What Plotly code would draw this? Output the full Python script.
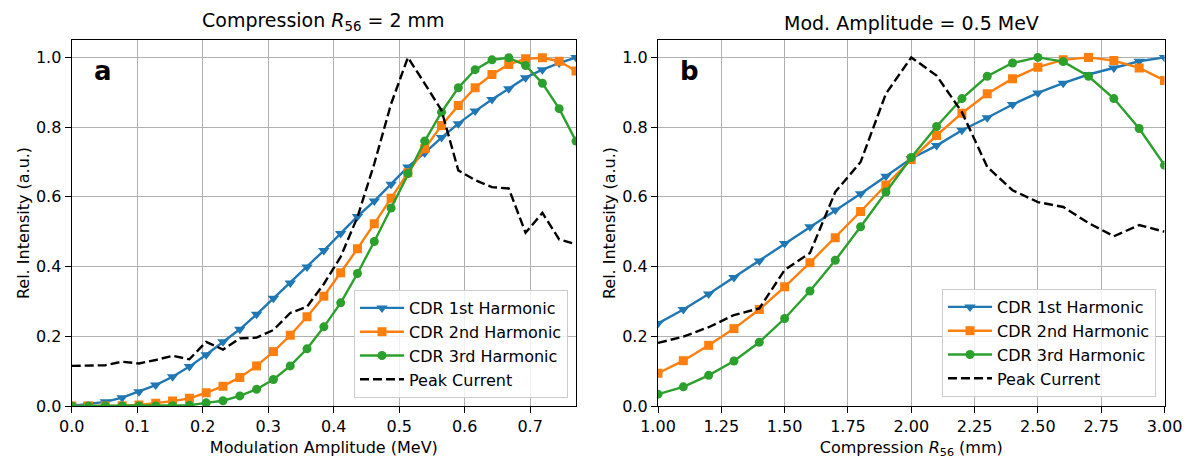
import plotly.graph_objects as go

# ---------------- data ----------------
mod_amp = [0.0, 0.0257, 0.0513, 0.077, 0.1027, 0.1283, 0.154, 0.1797, 0.2053, 0.231,
           0.2567, 0.2823, 0.308, 0.3337, 0.3593, 0.385, 0.4107, 0.4363, 0.462, 0.4877,
           0.5133, 0.539, 0.5647, 0.5903, 0.616, 0.6417, 0.6673, 0.693, 0.7187, 0.7443, 0.77]
a_h1 = [0.0, 0.005, 0.012, 0.024, 0.041, 0.060, 0.084, 0.113, 0.147, 0.184, 0.220,
        0.263, 0.309, 0.353, 0.399, 0.446, 0.495, 0.544, 0.588, 0.636, 0.686,
        0.726, 0.770, 0.810, 0.846, 0.879, 0.910, 0.942, 0.965, 0.984, 1.0]
a_h2 = [0.0, 0.0, 0.0, 0.001, 0.003, 0.008, 0.014, 0.022, 0.038, 0.057, 0.082,
        0.115, 0.156, 0.203, 0.256, 0.315, 0.382, 0.451, 0.523, 0.596, 0.669,
        0.738, 0.805, 0.862, 0.913, 0.951, 0.980, 0.996, 0.999, 0.989, 0.961]
a_h3 = [0.0, 0.0, 0.0, 0.0, 0.0, 0.0, 0.001, 0.002, 0.009, 0.015, 0.029,
        0.048, 0.076, 0.115, 0.164, 0.227, 0.296, 0.380, 0.472, 0.568, 0.667,
        0.760, 0.843, 0.913, 0.965, 0.993, 0.999, 0.977, 0.926, 0.853, 0.760]
a_peak = [0.115, 0.115, 0.117, 0.127, 0.122, 0.132, 0.144, 0.134, 0.184, 0.162, 0.194,
          0.196, 0.218, 0.267, 0.285, 0.350, 0.428, 0.542, 0.695, 0.867, 1.0,
          0.925, 0.848, 0.676, 0.648, 0.628, 0.624, 0.497, 0.554, 0.478, 0.464]

r56 = [1.0, 1.1, 1.2, 1.3, 1.4, 1.5, 1.6, 1.7, 1.8, 1.9, 2.0,
       2.1, 2.2, 2.3, 2.4, 2.5, 2.6, 2.7, 2.8, 2.9, 3.0]
b_h1 = [0.237, 0.277, 0.321, 0.369, 0.416, 0.466, 0.514, 0.562, 0.609, 0.659, 0.710,
        0.747, 0.791, 0.827, 0.865, 0.898, 0.926, 0.951, 0.970, 0.989, 1.0]
b_h2 = [0.094, 0.130, 0.174, 0.222, 0.277, 0.342, 0.411, 0.483, 0.558, 0.634, 0.707,
        0.776, 0.840, 0.896, 0.939, 0.972, 0.993, 1.0, 0.991, 0.970, 0.934]
b_h3 = [0.034, 0.055, 0.088, 0.129, 0.183, 0.251, 0.330, 0.418, 0.514, 0.614, 0.713,
        0.802, 0.882, 0.946, 0.984, 1.0, 0.988, 0.946, 0.882, 0.796, 0.691]
b_peak = [0.181, 0.199, 0.226, 0.261, 0.280, 0.390, 0.439, 0.614, 0.700, 0.896, 1.0,
          0.948, 0.843, 0.686, 0.619, 0.585, 0.571, 0.525, 0.487, 0.519, 0.500]

names = ["CDR 1st Harmonic", "CDR 2nd Harmonic", "CDR 3rd Harmonic", "Peak Current"]
x_ticks_a = [0.0, 0.1, 0.2, 0.3, 0.4, 0.5, 0.6, 0.7]
x_ticks_b = [1.0, 1.25, 1.5, 1.75, 2.0, 2.25, 2.5, 2.75, 3.0]
y_ticks = [0.0, 0.2, 0.4, 0.6, 0.8, 1.0]

# ---------------- styles ----------------
OFF = 8                      # page body margin offset
W, H = 1190 - OFF, 459 - OFF
FONT = "DejaVu Sans"
colors = ["#1f77b4", "#ff7f0e", "#2ca02c", "black"]
symbols = ["triangle-down", "square", "circle", None]
msizes = [10, 9, 9, None]

def px(sx):
    return (sx - OFF) / W

T = 40 - OFF
B_ = H - (406 - OFF)
plot_h = H - T - B_

def py(sy):
    return (406 - sy) / plot_h

fig = go.Figure()

def add_panel(xv, series, xa, ya, legend):
    for i, (yv, nm) in enumerate(zip(series, names)):
        if symbols[i] is None:
            fig.add_trace(go.Scatter(
                x=xv, y=yv, name=nm, mode="lines", xaxis=xa, yaxis=ya, legend=legend,
                line=dict(color=colors[i], width=2.4, dash="9px,4px")))
        else:
            fig.add_trace(go.Scatter(
                x=xv, y=yv, name=nm, mode="lines+markers", xaxis=xa, yaxis=ya, legend=legend,
                line=dict(color=colors[i], width=2.4),
                marker=dict(symbol=symbols[i], size=msizes[i], color=colors[i],
                            line=dict(width=0))))

add_panel(mod_amp, [a_h1, a_h2, a_h3, a_peak], "x", "y", "legend")
add_panel(r56, [b_h1, b_h2, b_h3, b_peak], "x2", "y2", "legend2")

dom_a = [px(71.7), px(576.0)]
dom_b = [px(658.0), px(1164.5)]

axis_common = dict(
    showline=True, linecolor="black", linewidth=1.3, mirror=True,
    ticks="outside", ticklen=6, tickwidth=1.3, tickcolor="black",
    showgrid=True, gridcolor="#b0b0b0", gridwidth=1.3, zeroline=False,
    automargin=False,
    tickfont=dict(family=FONT, size=16, color="black"),
)

leg_common = dict(bgcolor="rgba(255,255,255,0.8)", bordercolor="#cccccc", borderwidth=1,
                  font=dict(family=FONT, size=16), itemwidth=44, tracegroupgap=0)

fig.update_layout(
    width=W, height=H,
    margin=dict(l=0, r=0, t=T, b=B_, autoexpand=False),
    paper_bgcolor="white", plot_bgcolor="white",
    font=dict(family=FONT, size=16, color="black"),
    xaxis=dict(domain=dom_a, range=[0, 0.77], tickvals=x_ticks_a, tickformat=".1f",
               title=dict(text="Modulation Amplitude (MeV)", standoff=6,
                          font=dict(family=FONT, size=16)),
               **axis_common),
    yaxis=dict(domain=[0, 1], range=[0, 1.05], tickvals=y_ticks, tickformat=".1f",
               anchor="x",
               title=dict(text="Rel. Intensity (a.u.)", standoff=2,
                          font=dict(family=FONT, size=16)),
               **axis_common),
    xaxis2=dict(domain=dom_b, range=[1, 3], tickvals=x_ticks_b, tickformat=".2f",
                anchor="y2",
                title=dict(text="Compression <i>R</i><sub>56</sub> (mm)", standoff=6,
                           font=dict(family=FONT, size=16)),
                **axis_common),
    yaxis2=dict(domain=[0, 1], range=[0, 1.05], tickvals=y_ticks, tickformat=".1f",
                anchor="x2",
                title=dict(text="Rel. Intensity (a.u.)", standoff=2,
                           font=dict(family=FONT, size=16)),
                **axis_common),
    legend=dict(x=px(568), xanchor="right", y=py(398), yanchor="bottom", **leg_common),
    legend2=dict(x=px(1156), xanchor="right", y=py(397), yanchor="bottom", **leg_common),
    showlegend=True,
)

ann = [
    dict(text="Compression <i>R</i><sub>56</sub> = 2 mm", x=(dom_a[0] + dom_a[1]) / 2, y=1,
         xref="paper", yref="paper", xanchor="center", yanchor="bottom", yshift=4,
         showarrow=False, font=dict(family=FONT, size=19)),
    dict(text="Mod. Amplitude = 0.5 MeV", x=(dom_b[0] + dom_b[1]) / 2, y=1,
         xref="paper", yref="paper", xanchor="center", yanchor="bottom", yshift=4,
         showarrow=False, font=dict(family=FONT, size=19)),
    dict(text="<b>a</b>", x=0.04, y=0.915, xref="x domain", yref="y domain",
         xanchor="left", yanchor="middle", showarrow=False, font=dict(family=FONT, size=26)),
    dict(text="<b>b</b>", x=0.04, y=0.915, xref="x2 domain", yref="y2 domain",
         xanchor="left", yanchor="middle", showarrow=False, font=dict(family=FONT, size=26)),
]
fig.update_layout(annotations=ann)

fig.write_html("out.html")
